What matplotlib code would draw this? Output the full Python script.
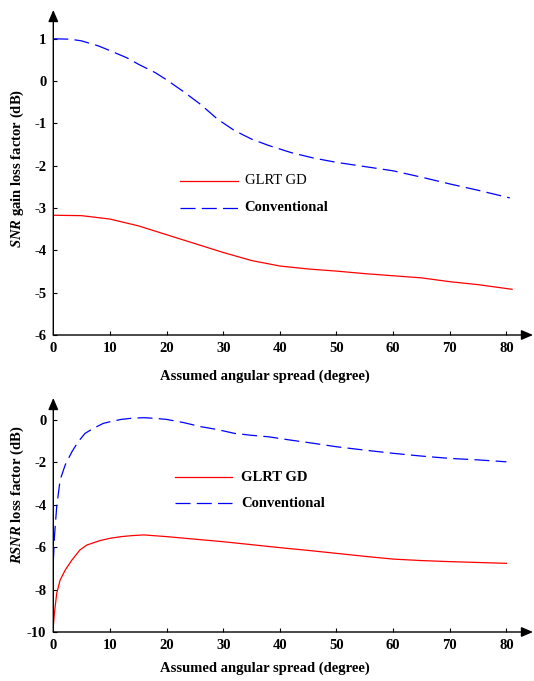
import matplotlib
matplotlib.use("Agg")
import matplotlib.pyplot as plt

plt.rcParams['font.family'] = ['Liberation Serif', 'DejaVu Serif']
plt.rcParams['mathtext.fontset'] = 'custom'
plt.rcParams['mathtext.it'] = 'Liberation Serif:italic:bold'
plt.rcParams['mathtext.rm'] = 'Liberation Serif:bold'
plt.rcParams['axes.unicode_minus'] = False

# ---- data (top panel) ----
top_conv_x = [0, 3, 5, 8, 10, 13, 15, 18, 20, 23, 26, 29, 32, 35, 38, 42, 46, 50, 55, 60, 65, 70, 75, 80.6]
top_conv_y = [1.0, 0.99, 0.95, 0.83, 0.72, 0.55, 0.4, 0.2, 0.03, -0.25, -0.55, -0.9, -1.17, -1.37, -1.52, -1.69, -1.82, -1.92, -2.02, -2.12, -2.27, -2.43, -2.58, -2.76]
top_glrt_x = [0, 5, 10, 15, 20, 25, 30, 35, 40, 45, 50, 55, 60, 65, 70, 75, 81]
top_glrt_y = [-3.17, -3.18, -3.26, -3.42, -3.63, -3.84, -4.05, -4.24, -4.37, -4.44, -4.49, -4.55, -4.60, -4.65, -4.74, -4.81, -4.92]

# ---- data (bottom panel) ----
bot_conv_x = [0, 0.2, 0.6, 1.2, 2.1, 3.3, 4.4, 5.6, 7.1, 8.8, 10, 12, 14, 16, 18, 20, 23, 26, 29, 32, 35, 38, 42, 46, 50, 55, 60, 65, 70, 75, 80]
bot_conv_y = [-6.7, -5.5, -4.09, -2.83, -2.12, -1.49, -1.02, -0.63, -0.39, -0.16, -0.08, 0.03, 0.09, 0.11, 0.08, 0.03, -0.12, -0.31, -0.45, -0.63, -0.72, -0.79, -0.95, -1.1, -1.26, -1.42, -1.57, -1.7, -1.81, -1.88, -1.97]
bot_glrt_x = [0, 0.2, 0.6, 1.2, 2.1, 3.3, 4.7, 5.9, 8.2, 10, 12, 14, 16, 18, 20, 25, 30, 35, 40, 45, 50, 55, 60, 65, 70, 75, 80]
bot_glrt_y = [-9.75, -9.1, -8.18, -7.55, -7.08, -6.6, -6.13, -5.9, -5.69, -5.58, -5.5, -5.45, -5.42, -5.46, -5.5, -5.62, -5.74, -5.88, -6.02, -6.15, -6.29, -6.43, -6.56, -6.63, -6.68, -6.72, -6.76]

x_ticks = [0, 10, 20, 30, 40, 50, 60, 70, 80]
top_y_ticks = [-6, -5, -4, -3, -2, -1, 0, 1]
bot_y_ticks = [-10, -8, -6, -4, -2, 0]
series_names = ["GLRT GD", "Conventional"]

W, H = 534, 681
fig = plt.figure(figsize=(W / 100, H / 100), dpi=100)

def px_axes(x0, x1, y_bottom, y_top):
    return fig.add_axes([x0 / W, 1 - y_bottom / H, (x1 - x0) / W, (y_bottom - y_top) / H])

def style_axes(ax, xlim, ylim, yticks):
    ax.set_xlim(*xlim)
    ax.set_ylim(*ylim)
    for s in ax.spines.values():
        s.set_visible(False)
    ax.set_xticks(x_ticks)
    ax.set_yticks(yticks)
    ax.tick_params(direction='in', length=3, width=0.8, labelsize=10.5, pad=5)
    for lab in ax.get_xticklabels() + ax.get_yticklabels():
        lab.set_fontweight('bold')
    arrow = dict(arrowstyle='-|>,head_length=0.7,head_width=0.3', color='black', lw=1.0, shrinkA=0, shrinkB=0)
    ax.annotate('', xy=(1, 0), xytext=(0, 0), xycoords='axes fraction', arrowprops=arrow, annotation_clip=False)
    ax.annotate('', xy=(0, 1), xytext=(0, 0), xycoords='axes fraction', arrowprops=arrow, annotation_clip=False)

red = '#ff0000'
blue = '#0000ff'
dash = (12, 5)

# top panel
ax1 = px_axes(53.3, 533, 335, 10)
ax1.plot(top_glrt_x, top_glrt_y, color=red, lw=0.9)
ax1.plot(top_conv_x, top_conv_y, color=blue, lw=0.9, dashes=dash)
style_axes(ax1, (0, 84.7), (-6, 1.68), top_y_ticks)

# legend (top)
ax1.plot([22.3, 32.7], [-2.36, -2.36], color=red, lw=0.9)
ax1.plot([22.3, 32.7], [-2.99, -2.99], color=blue, lw=0.9, dashes=dash)
ax1.text(33.8, -2.36, series_names[0], fontsize=10.5, va='center', ha='left')
ax1.text(33.8, -2.99, series_names[1], fontsize=10.5, va='center', ha='left', fontweight='bold')

fig.text(265 / W, 1 - 376 / H, "Assumed angular spread (degree)", fontsize=10.5, fontweight='bold', ha='center', va='center')
fig.text(17 / W, 1 - 168 / H, r"$\mathit{SNR}$ gain loss factor (dB)", fontsize=10.5, fontweight='bold', ha='center', va='center', rotation=90)

# bottom panel
ax2 = px_axes(53.3, 533, 632, 398)
ax2.plot(bot_glrt_x, bot_glrt_y, color=red, lw=0.9)
ax2.plot(bot_conv_x, bot_conv_y, color=blue, lw=0.9, dashes=dash)
style_axes(ax2, (0, 84.7), (-10, 1.04), bot_y_ticks)

ax2.plot([21.5, 31.5], [-2.7, -2.7], color=red, lw=0.9)
ax2.plot([21.5, 31.5], [-3.93, -3.93], color=blue, lw=0.9, dashes=dash)
ax2.text(33.2, -2.7, series_names[0], fontsize=10.5, va='center', ha='left', fontweight='bold')
ax2.text(33.2, -3.93, series_names[1], fontsize=10.5, va='center', ha='left', fontweight='bold')

fig.text(265 / W, 1 - 668 / H, "Assumed angular spread (degree)", fontsize=10.5, fontweight='bold', ha='center', va='center')
fig.text(17 / W, 1 - 495 / H, r"$\mathit{RSNR}$ loss factor (dB)", fontsize=10.5, fontweight='bold', ha='center', va='center', rotation=90)

fig.savefig("out.png", dpi=100)
